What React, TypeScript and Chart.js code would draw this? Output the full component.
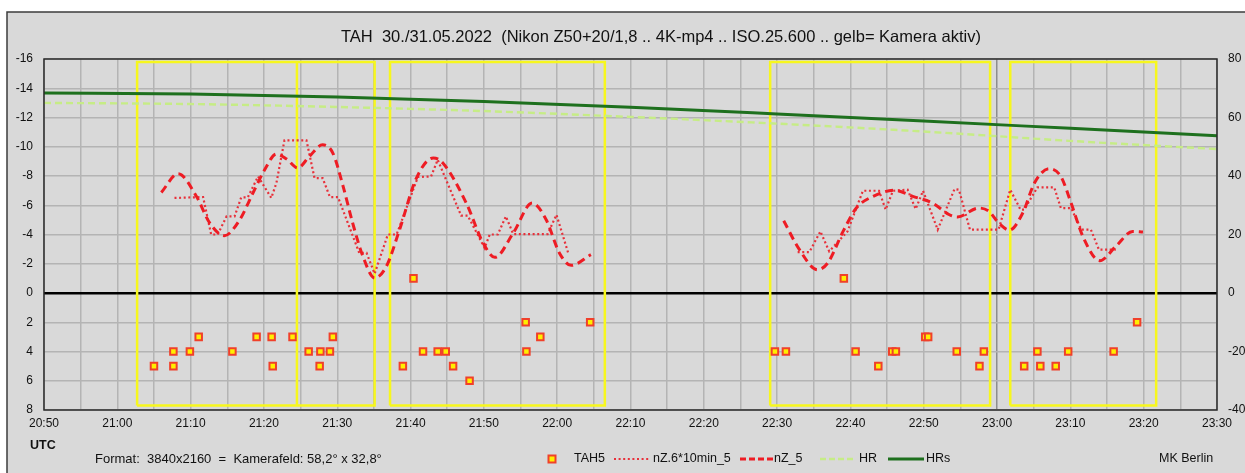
import React, { useEffect, useRef } from 'react';
import { Chart, registerables } from 'chart.js';

Chart.register(...registerables);

const W = 1245;
const H = 473;
const FONT = '"Liberation Sans", Arial, sans-serif';

// All times are minutes after 20:50 UTC
const START_MIN = 20 * 60 + 50;

// Camera active periods (yellow frames)
const cameraStart = [12.7, 34.5, 47.2, 99.05, 131.8];
const cameraEnd = [34.5, 45.1, 76.5, 129.05, 151.7];
const cameraTop = -15.8;
const cameraBottom = 7.7;

// TAH5 single meteors (left axis)
const tah5Times = [
  15.0, 17.65, 17.65, 19.9, 21.1, 25.7, 29.0, 31.05, 31.2, 33.9, 36.1, 37.7, 37.6, 39.0, 39.4,
  48.95, 50.4, 51.7, 53.7, 54.8, 55.8, 58.05, 65.7, 65.8, 67.7, 74.5,
  99.7, 101.2, 109.1, 110.7, 113.8, 115.7, 116.2, 120.2, 120.6, 124.5, 127.6, 128.2,
  133.7, 135.5, 135.9, 138.0, 139.7, 145.9, 149.1,
];
const tah5Values = [
  5, 4, 5, 4, 3, 4, 3, 3, 5, 3, 4, 4, 5, 4, 3,
  5, -1, 4, 4, 4, 5, 6, 2, 4, 3, 2,
  4, 4, -1, 4, 5, 4, 4, 3, 3, 4, 5, 4,
  5, 4, 5, 5, 4, 4, 2,
];

// nZ.6*10min_5 (dotted)
const nz6Times1 = [
  17.8, 21.7, 22.8, 23.7, 24.9, 26.0, 26.9, 27.8, 29.2, 31.0, 31.7, 32.8, 35.8, 36.9, 38.0,
  39.0, 40.1, 43.0, 44.0, 45.1, 46.9, 48.1, 51.0, 52.8, 53.7, 56.9, 57.8, 60.1, 60.8, 61.9,
  63.0, 64.0, 68.7, 69.9, 71.5,
];
const nz6Values1 = [
  -6.5, -6.56, -4.0, -4.0, -5.24, -5.24, -6.54, -6.54, -7.97, -6.5, -7.52, -10.44, -10.44, -7.86, -7.86,
  -6.56, -6.56, -2.74, -2.74, -1.32, -4.0, -4.0, -7.93, -7.97, -9.11, -5.29, -5.29, -3.08, -4.0, -4.0,
  -5.24, -4.03, -4.03, -5.35, -2.74,
];
const nz6Times2 = [
  102.8, 104.4, 105.9, 107.1, 109.6, 111.7, 113.9, 114.8, 115.8, 117.8, 118.9, 119.9, 121.9, 124.2,
  124.8, 126.3, 130.2, 131.8, 133.2, 133.7, 135.5, 137.8, 138.7, 140.1, 141.5, 142.8, 143.9, 146.2,
];
const nz6Values2 = [
  -2.8, -2.8, -4.21, -2.85, -4.21, -6.99, -6.99, -5.7, -6.99, -7.06, -5.74, -6.99, -4.33, -7.11,
  -7.06, -4.33, -4.33, -7.06, -5.7, -5.7, -7.22, -7.22, -5.81, -5.81, -4.33, -4.33, -2.96, -2.96,
];

// nZ_5 (dashed, smoothed)
const nz5Times1 = [
  16.0, 18.3, 20.8, 22.6, 24.6, 26.7, 28.5, 30.1, 31.7, 33.1, 34.6, 36.2, 38.0, 39.4, 40.8,
  42.1, 43.5, 45.1, 46.7, 48.5, 50.8, 53.1, 54.4, 57.6, 59.9, 61.5, 64.0, 66.6, 68.5, 70.3,
  71.9, 74.6,
];
const nz5Values1 = [
  -6.88, -8.16, -6.6, -4.79, -3.92, -5.01, -6.84, -8.43, -9.5, -9.16, -8.55, -9.34, -10.14, -9.57, -7.29,
  -4.79, -2.5, -1.03, -1.82, -4.33, -7.86, -9.23, -8.89, -6.15, -3.42, -2.44, -4.1, -6.15, -5.01, -2.74,
  -1.89, -2.62,
];
const nz5Times2 = [
  100.9, 103.05, 105.5, 106.9, 109.0, 110.8, 113.1, 116.0, 118.5, 121.2, 123.5, 124.6, 127.5,
  128.9, 130.3, 131.7, 133.5, 135.1, 137.1, 138.7, 140.1, 141.7, 144.0, 146.2, 148.5, 149.9,
];
const nz5Values2 = [
  -4.94, -2.96, -1.59, -2.05, -4.21, -5.81, -6.61, -7.02, -6.61, -6.15, -5.35, -5.2, -5.81,
  -5.58, -4.74, -4.3, -5.47, -7.52, -8.5, -7.97, -6.15, -3.87, -2.21, -3.19, -4.21, -4.17,
];

// Hourly rates (right axis)
const hrTimes = [0, 20, 40, 60, 80, 100, 120, 140, 160];
const hrValues = [65.0, 64.6, 63.6, 62.2, 60.2, 57.9, 55.2, 52.0, 49.2];
const hrsValues = [68.4, 68.0, 67.0, 65.5, 63.5, 61.2, 58.8, 56.3, 53.8];

const RED_DASH = '#ee1c24';
const RED_DOT = '#e8303a';
const HR_COLOR = '#c6ec86';
const HRS_COLOR = '#1e701e';
const YELLOW = '#f7f71e';
const GRID = '#b4b4b4';

const pts = (xs: number[], ys: number[]) => xs.map((x, i) => ({ x, y: ys[i] }));
const joinSegments = (a: { x: number; y: number | null }[], b: { x: number; y: number | null }[]) => {
  const gap = (a[a.length - 1].x + b[0].x) / 2;
  return [...a, { x: gap, y: null }, ...b];
};

const cameraFrames = () => {
  const out: { x: number; y: number | null }[] = [];
  cameraStart.forEach((s, i) => {
    const e = cameraEnd[i];
    out.push(
      { x: s, y: cameraBottom },
      { x: s, y: cameraTop },
      { x: e, y: cameraTop },
      { x: e, y: cameraBottom },
      { x: s, y: cameraBottom },
      { x: e, y: null }
    );
  });
  return out;
};

const fmtTime = (t: number) => {
  const total = START_MIN + t;
  const h = Math.floor(total / 60) % 24;
  const m = Math.round(total % 60);
  return `${h}:${m < 10 ? '0' + m : m}`;
};

const framePlugin = {
  id: 'frame',
  beforeDraw(chart: any) {
    const c = chart.ctx as CanvasRenderingContext2D;
    c.save();
    c.fillStyle = '#ffffff';
    c.fillRect(0, 0, W, H);
    c.fillStyle = '#d9d9d9';
    c.fillRect(7, 12, W, H);
    c.strokeStyle = '#3c3c3c';
    c.lineWidth = 1.5;
    c.beginPath();
    c.moveTo(7, H + 2);
    c.lineTo(7, 12);
    c.lineTo(W + 2, 12);
    c.stroke();

    c.fillStyle = '#111';
    c.font = `16.5px ${FONT}`;
    c.textBaseline = 'middle';
    c.textAlign = 'left';
    c.fillText('TAH  30./31.05.2022  (Nikon Z50+20/1,8 .. 4K-mp4 .. ISO.25.600 .. gelb= Kamera aktiv)', 341, 37);
    c.restore();
  },
  afterDraw(chart: any) {
    const c = chart.ctx as CanvasRenderingContext2D;
    const a = chart.chartArea;
    c.save();
    c.strokeStyle = '#2a2a2a';
    c.lineWidth = 1.5;
    c.strokeRect(a.left, a.top, a.right - a.left, a.bottom - a.top);

    c.fillStyle = '#111';
    c.textBaseline = 'middle';
    c.textAlign = 'left';
    c.font = `bold 12.5px ${FONT}`;
    c.fillText('UTC', 30, 446);

    const y = 459;
    c.font = `13px ${FONT}`;
    c.fillText('Format:  3840x2160  =  Kamerafeld: 58,2° x 32,8°', 95, y);

    c.font = `12.5px ${FONT}`;
    // legend: TAH5
    c.fillStyle = '#ffef00';
    c.strokeStyle = '#f0402a';
    c.lineWidth = 2;
    c.fillRect(548.5, y - 3.5, 7, 7);
    c.strokeRect(548.5, y - 3.5, 7, 7);
    c.fillStyle = '#111';
    c.fillText('TAH5', 574, y);

    // nZ.6*10min_5
    c.strokeStyle = RED_DOT;
    c.lineWidth = 2.2;
    c.setLineDash([2, 2.6]);
    c.beginPath();
    c.moveTo(614, y);
    c.lineTo(650, y);
    c.stroke();
    c.fillText('nZ.6*10min_5', 653, y);

    // nZ_5
    c.strokeStyle = RED_DASH;
    c.lineWidth = 3;
    c.setLineDash([6, 3]);
    c.beginPath();
    c.moveTo(740, y);
    c.lineTo(773, y);
    c.stroke();
    c.fillText('nZ_5', 774, y);

    // HR
    c.strokeStyle = HR_COLOR;
    c.lineWidth = 2.5;
    c.setLineDash([6, 3]);
    c.beginPath();
    c.moveTo(820, y);
    c.lineTo(856, y);
    c.stroke();
    c.fillText('HR', 859, y);

    // HRs
    c.setLineDash([]);
    c.strokeStyle = HRS_COLOR;
    c.lineWidth = 3;
    c.beginPath();
    c.moveTo(888, y);
    c.lineTo(924, y);
    c.stroke();
    c.fillText('HRs', 926, y);

    c.fillText('MK Berlin', 1159, y);
    c.restore();
  },
};

export default function App() {
  const canvasRef = useRef<HTMLCanvasElement | null>(null);

  useEffect(() => {
    if (!canvasRef.current) return;
    const chart = new Chart(canvasRef.current, {
      type: 'line',
      data: {
        datasets: [
          {
            label: 'TAH5',
            data: pts(tah5Times, tah5Values),
            showLine: false,
            pointStyle: 'rect',
            pointRadius: 4.6,
            pointBorderWidth: 2,
            pointBackgroundColor: '#ffef00',
            pointBorderColor: '#f0402a',
            yAxisID: 'y',
            order: 1,
          },
          {
            label: 'nZ.6*10min_5',
            data: joinSegments(pts(nz6Times1, nz6Values1), pts(nz6Times2, nz6Values2)),
            borderColor: RED_DOT,
            borderWidth: 2.2,
            borderDash: [2, 2.6],
            pointRadius: 0,
            tension: 0,
            spanGaps: false,
            yAxisID: 'y',
            order: 3,
          },
          {
            label: 'nZ_5',
            data: joinSegments(pts(nz5Times1, nz5Values1), pts(nz5Times2, nz5Values2)),
            borderColor: RED_DASH,
            borderWidth: 3,
            borderDash: [8, 5],
            pointRadius: 0,
            cubicInterpolationMode: 'monotone',
            spanGaps: false,
            yAxisID: 'y',
            order: 2,
          },
          {
            label: 'HR',
            data: pts(hrTimes, hrValues),
            borderColor: HR_COLOR,
            borderWidth: 2.4,
            borderDash: [7, 4],
            pointRadius: 0,
            cubicInterpolationMode: 'monotone',
            yAxisID: 'y2',
            order: 5,
          },
          {
            label: 'HRs',
            data: pts(hrTimes, hrsValues),
            borderColor: HRS_COLOR,
            borderWidth: 3,
            pointRadius: 0,
            cubicInterpolationMode: 'monotone',
            yAxisID: 'y2',
            order: 4,
          },
          {
            label: 'Kamera aktiv',
            data: cameraFrames(),
            borderColor: YELLOW,
            borderWidth: 2.5,
            pointRadius: 0,
            tension: 0,
            spanGaps: false,
            yAxisID: 'y',
            order: 20,
          },
        ],
      },
      options: {
        responsive: false,
        animation: false,
        events: [],
        layout: { padding: { left: 0, right: 0, top: 59, bottom: 43 } },
        plugins: {
          legend: { display: false },
          title: { display: false },
          tooltip: { enabled: false },
        },
        scales: {
          x: {
            type: 'linear',
            min: 0,
            max: 160,
            afterFit: (s: any) => {
              s.height = 20;
            },
            border: { display: false },
            grid: {
              color: (ctx: any) => (ctx.tick && ctx.tick.value === 130 ? '#8e8e8e' : GRID),
              lineWidth: 1.5,
              drawTicks: false,
            },
            ticks: {
              stepSize: 5,
              autoSkip: false,
              maxRotation: 0,
              padding: 6,
              color: '#111',
              font: { family: FONT, size: 12 },
              callback: (v: any) => (Number(v) % 10 === 0 ? fmtTime(Number(v)) : ''),
            },
          },
          y: {
            type: 'linear',
            position: 'left',
            min: -16,
            max: 8,
            reverse: true,
            afterFit: (s: any) => {
              s.width = 44;
            },
            border: { display: false },
            grid: {
              color: (ctx: any) => (ctx.tick && ctx.tick.value === 0 ? '#000' : GRID),
              lineWidth: (ctx: any) => (ctx.tick && ctx.tick.value === 0 ? 2.5 : 1.5),
              drawTicks: false,
            },
            ticks: {
              stepSize: 2,
              padding: 11,
              color: '#111',
              font: { family: FONT, size: 12 },
            },
          },
          y2: {
            type: 'linear',
            position: 'right',
            min: -40,
            max: 80,
            afterFit: (s: any) => {
              s.width = 28;
            },
            border: { display: false },
            grid: { display: false, drawTicks: false },
            ticks: {
              stepSize: 20,
              padding: 11,
              color: '#111',
              font: { family: FONT, size: 12 },
            },
          },
        },
      },
      plugins: [framePlugin],
    });
    return () => chart.destroy();
  }, []);

  return (
    <div style={{ position: 'absolute', left: 0, top: 0, width: W, height: H, background: '#fff' }}>
      <canvas ref={canvasRef} width={W} height={H} style={{ display: 'block', width: W, height: H }} />
    </div>
  );
}
